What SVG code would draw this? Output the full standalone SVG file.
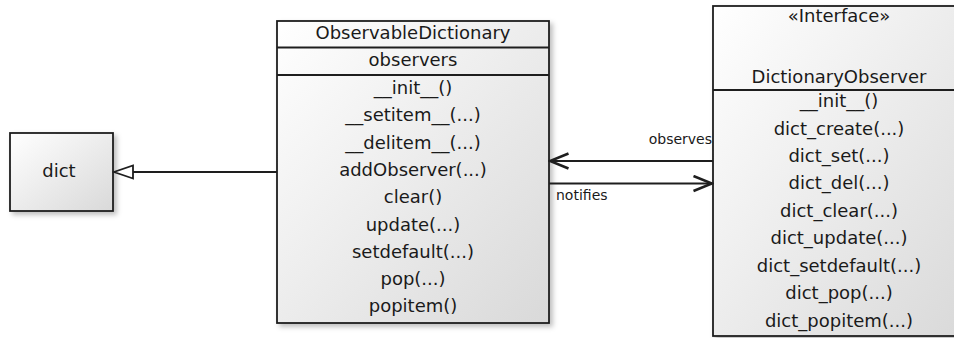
<svg xmlns="http://www.w3.org/2000/svg" width="954" height="338" viewBox="0 0 954 338">
  <style>
    .box { stroke: #1e1e1e; stroke-width: 1.8; fill: url(#boxFill); filter: url(#shadow); }
    .sep { stroke: #1e1e1e; stroke-width: 1.8; fill: none; }
    .t { font-family: "DejaVu Sans", Verdana, sans-serif; font-size: 18px; fill: #1a1a1a; text-anchor: middle; }
    .lbl { font-family: "DejaVu Sans", Verdana, sans-serif; font-size: 14px; fill: #1a1a1a; }
    .edge { stroke: #1e1e1e; stroke-width: 1.8; fill: none; }
  </style>
  <defs>
    <linearGradient id="boxFill" x1="0" y1="0" x2="1" y2="1">
      <stop offset="0" stop-color="#ffffff"/>
      <stop offset="1" stop-color="#d9d9d9"/>
    </linearGradient>
    <filter id="shadow" x="-10%" y="-10%" width="125%" height="125%">
      <feDropShadow dx="3" dy="3" stdDeviation="2.5" flood-color="#000" flood-opacity="0.25"/>
    </filter>
    <marker id="open" viewBox="0 0 22 18" refX="20" refY="9" markerWidth="22" markerHeight="18" markerUnits="userSpaceOnUse" orient="auto">
      <path d="M1.5,1.5 L20,9 L1.5,16.5" fill="none" stroke="#1e1e1e" stroke-width="2.6"/>
    </marker>
    <marker id="hollow" viewBox="0 0 22 16" refX="20" refY="8" markerWidth="22" markerHeight="16" markerUnits="userSpaceOnUse" orient="auto">
      <path d="M1,1.5 L20,8 L1,14.5 Z" fill="#ffffff" stroke="#1e1e1e" stroke-width="1.8"/>
    </marker>
  </defs>

  <!-- dict -->
  <g id="dict">
    <rect class="box" x="10" y="133" width="103" height="78"/>
    <text class="t" x="59" y="177">dict</text>
  </g>

  <!-- ObservableDictionary -->
  <g id="ObservableDictionary">
    <rect class="box" x="277" y="21" width="272" height="302"/>
    <line class="sep" x1="277" y1="47.5" x2="549" y2="47.5"/>
    <line class="sep" x1="277" y1="75" x2="549" y2="75"/>
    <text class="t" x="413" y="39">ObservableDictionary</text>
    <text class="t" x="413" y="66">observers</text>
    <text class="t" x="413" y="94">__init__()</text>
    <text class="t" x="413" y="121.3">__setitem__(...)</text>
    <text class="t" x="413" y="148.6">__delitem__(...)</text>
    <text class="t" x="413" y="175.9">addObserver(...)</text>
    <text class="t" x="413" y="203.2">clear()</text>
    <text class="t" x="413" y="230.5">update(...)</text>
    <text class="t" x="413" y="257.8">setdefault(...)</text>
    <text class="t" x="413" y="285.1">pop(...)</text>
    <text class="t" x="413" y="312.4">popitem()</text>
  </g>

  <!-- DictionaryObserver -->
  <g id="DictionaryObserver">
    <rect class="box" x="713" y="6" width="252" height="330"/>
    <line class="sep" x1="713" y1="90" x2="965" y2="90"/>
    <text class="t" x="839" y="22">«Interface»</text>
    <text class="t" x="839" y="83">DictionaryObserver</text>
    <text class="t" x="839" y="107">__init__()</text>
    <text class="t" x="839" y="134.5">dict_create(...)</text>
    <text class="t" x="839" y="162">dict_set(...)</text>
    <text class="t" x="839" y="189.4">dict_del(...)</text>
    <text class="t" x="839" y="216.8">dict_clear(...)</text>
    <text class="t" x="839" y="244.2">dict_update(...)</text>
    <text class="t" x="839" y="271.7">dict_setdefault(...)</text>
    <text class="t" x="839" y="299.1">dict_pop(...)</text>
    <text class="t" x="839" y="326.6">dict_popitem(...)</text>
  </g>

  <!-- connectors -->
  <g id="connectors">
    <line class="edge" x1="277" y1="172" x2="114" y2="172" marker-end="url(#hollow)"/>
    <line class="edge" x1="713" y1="161" x2="550" y2="161" marker-end="url(#open)"/>
    <text class="lbl" x="712" y="144" text-anchor="end">observes</text>
    <line class="edge" x1="549" y1="183.5" x2="712" y2="183.5" marker-end="url(#open)"/>
    <text class="lbl" x="556" y="200">notifies</text>
  </g>
</svg>
